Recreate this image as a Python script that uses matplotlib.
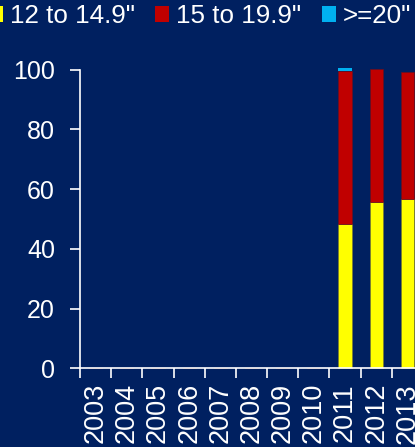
import matplotlib.pyplot as plt
import numpy as np
from matplotlib.patches import Patch

plt.rcParams['font.family'] = ['Liberation Sans', 'DejaVu Sans']

years = ["2003", "2004", "2005", "2006", "2007", "2008", "2009", "2010", "2011", "2012", "2013"]
size_12_to_14 = [0, 0, 0, 0, 0, 0, 0, 0, 48.3, 55.8, 56.8]
size_15_to_19 = [0, 0, 0, 0, 0, 0, 0, 0, 51.3, 44.4, 42.4]
size_20_plus = [0, 0, 0, 0, 0, 0, 0, 0, 1.0, 0, 0]
series_labels = ['12 to 14.9"', '15 to 19.9"', '>=20"']

BG = "#002060"
FG = "#ffffff"
colors = ["#ffff00", "#c00000", "#00b0f0"]
edges = ["#7a7a30", "#6a1020", "none"]

fig = plt.figure(figsize=(4.15, 4.47), dpi=100, facecolor=BG)
ax = fig.add_axes([80 / 415, 78.7 / 447, 343 / 415, 298.6 / 447])
ax.set_facecolor(BG)

x = np.arange(len(years))
bottom = np.zeros(len(years))
for vals, col, ec in zip([size_12_to_14, size_15_to_19, size_20_plus], colors, edges):
    vals = np.array(vals)
    ax.bar(x, vals, width=0.42, bottom=bottom, color=col, edgecolor=ec,
           linewidth=0.5, clip_on=False)
    bottom += vals

ax.set_xlim(-0.5, len(years) - 0.5)
ax.set_ylim(0, 100)
ax.set_yticks([0, 20, 40, 60, 80, 100])

# ticks between categories, labels centred on categories
ax.set_xticks(np.arange(-0.5, len(years)), minor=False)
ax.set_xticklabels([])
ax.set_xticks(x, minor=True)
ax.set_xticklabels(years, minor=True, rotation=90, fontsize=19.5, color=FG)
ax.tick_params(axis="x", which="minor", length=0, pad=10.5)
ax.tick_params(axis="x", which="major", length=7, width=1.2, color=FG, direction="out")
ax.tick_params(axis="y", length=7, width=1.2, color=FG, direction="out",
               labelsize=18, labelcolor=FG, pad=11)

for s in ["top", "right"]:
    ax.spines[s].set_visible(False)
for s in ["left", "bottom"]:
    ax.spines[s].set_color(FG)
    ax.spines[s].set_linewidth(1.2)

handles = [Patch(facecolor=c, edgecolor="none") for c in colors]
fig.legend(handles, series_labels, loc="upper left", bbox_to_anchor=(-11 / 415, 1 - 4 / 447),
           ncol=3, frameon=False, fontsize=18.7, labelcolor=FG, handlelength=0.54,
           handleheight=0.54, handletextpad=0.27, columnspacing=0.78, borderpad=0,
           borderaxespad=0)

fig.savefig("out.png", dpi=100, facecolor=BG)
